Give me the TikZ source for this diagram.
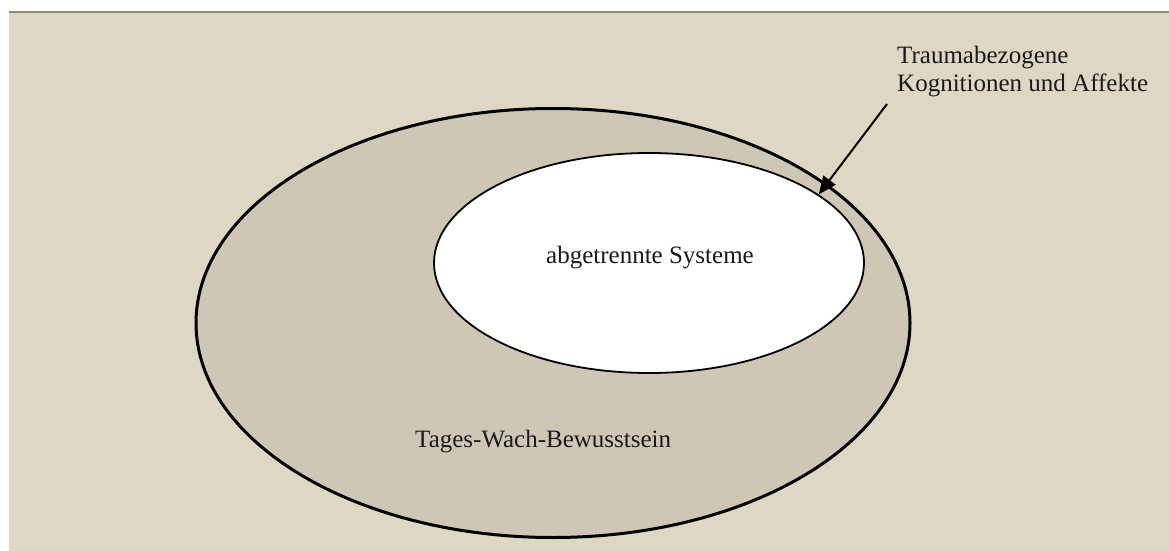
\documentclass[tikz,border=0pt]{standalone}
\usepackage{fontspec}
\setmainfont{Liberation Serif}
\usetikzlibrary{shapes.geometric,arrows.meta}
\definecolor{paper}{RGB}{222,215,195}
\definecolor{awake}{RGB}{206,199,181}
\definecolor{rule}{RGB}{140,138,120}
\tikzset{
  lbl/.style={inner sep=0pt, font=\fontsize{25}{28}\selectfont, text=black!90},
  zone/.style={ellipse, inner sep=0pt, draw=black},
  pointer/.style={draw=black, line width=2pt, -{Triangle[length=18pt,width=15pt]}}
}
\begin{document}
\begin{tikzpicture}[x=1pt,y=-1pt]
  \useasboundingbox (0,0) rectangle (1169,551);
  % page background and top rule
  \fill[white] (0,0) rectangle (1169,551);
  \fill[paper] (9,12) rectangle (1169,551);
  \draw[rule, line width=1.2pt] (9,12) -- (1169,12);

  % daily waking consciousness
  \node[zone, fill=awake, line width=3pt, minimum width=714pt, minimum height=429pt]
    (outer) at (553,323) {};
  % split-off systems
  \node[zone, fill=white, line width=1.8pt, minimum width=430pt, minimum height=220pt]
    (inner) at (649,263) {};

  \node[lbl, anchor=base] (sys) at (650,263) {abgetrennte Systeme};
  \node[lbl, anchor=base west] (awaketxt) at (415,447) {Tages-Wach-Bewusstsein};
  \node[lbl, anchor=base west, align=left] (trauma) at (897,91)
    {Traumabezogene\\Kognitionen und Affekte};

  \coordinate (arrstart) at (887,104);
  \draw[pointer] (arrstart) -- (inner.22.5);
\end{tikzpicture}
\end{document}
